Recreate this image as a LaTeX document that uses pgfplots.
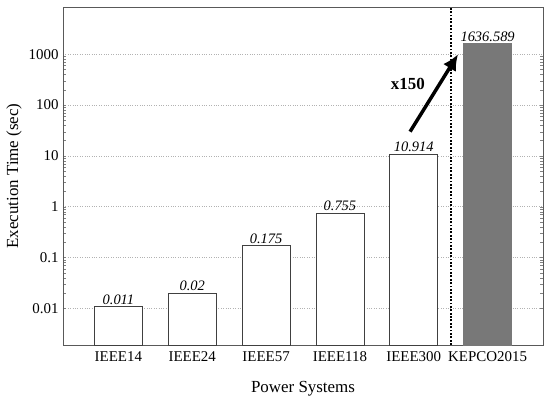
\documentclass[border=0pt]{standalone}
\usepackage{fontspec}
\setmainfont{Liberation Serif}
\usepackage{pgfplots}
\pgfplotsset{compat=1.18}
\usetikzlibrary{arrows.meta}
\newcommand{\tl}[1]{\mbox{\fontsize{15}{17}\selectfont #1}}
\begin{document}
\begin{tikzpicture}
\path[use as bounding box] (-63bp,-56bp) rectangle (487bp,345bp);
\begin{axis}[
  at={(0,0)}, anchor=south west,
  scale only axis, width=480bp, height=338bp,
  ymode=log, ymin=0.0019, ymax=8500,
  log origin=infty,
  xmin=-0.75, xmax=5.75,
  xtick={0,1,2,3,4,5},
  xticklabels={\tl{IEEE14},\tl{IEEE24},\tl{IEEE57},\tl{IEEE118},\tl{IEEE300},\tl{KEPCO2015}},
  ytick={0.01,0.1,1,10,100,1000},
  yticklabels={\tl{0.01},\tl{0.1},\tl{1},\tl{10},\tl{100},\tl{1000}},
  major tick length=0pt,
  minor tick num=0,
  ymajorgrids, grid style={dotted, gray!60, line width=0.6pt},
  axis line style={black!65, line width=0.8pt},
  xticklabel style={yshift=-3.5bp},
  yticklabel style={xshift=-1bp},
  label style={font=\fontsize{17}{20}\selectfont},
  xlabel={Power Systems}, ylabel={Execution Time (sec)},
  xlabel style={yshift=-12bp},
  ylabel style={yshift=0bp},
  ybar, bar width=48bp,
  point meta=explicit symbolic,
  nodes near coords,
  every node near coord/.append style={font=\itshape\fontsize{14.5}{17}\selectfont, inner sep=1.5bp},
]
\addplot[bar shift=0pt, fill=white, draw=black!75, line width=0.8pt]
  coordinates {(0,0.011) [0.011] (1,0.02) [0.02] (2,0.175) [0.175] (3,0.755) [0.755] (4,10.914) [10.914]};
\addplot[bar shift=0pt, fill=black!53, draw=black!53, line width=0.8pt]
  coordinates {(5,1636.589) [1636.589]};
\draw[line width=1.8pt, dash pattern=on 1.8pt off 1.6pt] (axis cs:4.5,0.0019) -- (axis cs:4.5,8500);
\draw[line width=3.5pt, -{Latex[length=16bp,width=15bp]}] (axis cs:3.95,30) -- (axis cs:4.6,1000);
\node[font=\bfseries\fontsize{17}{20}\selectfont] at (axis cs:3.92,255) {x150};
\end{axis}
\end{tikzpicture}
\end{document}
